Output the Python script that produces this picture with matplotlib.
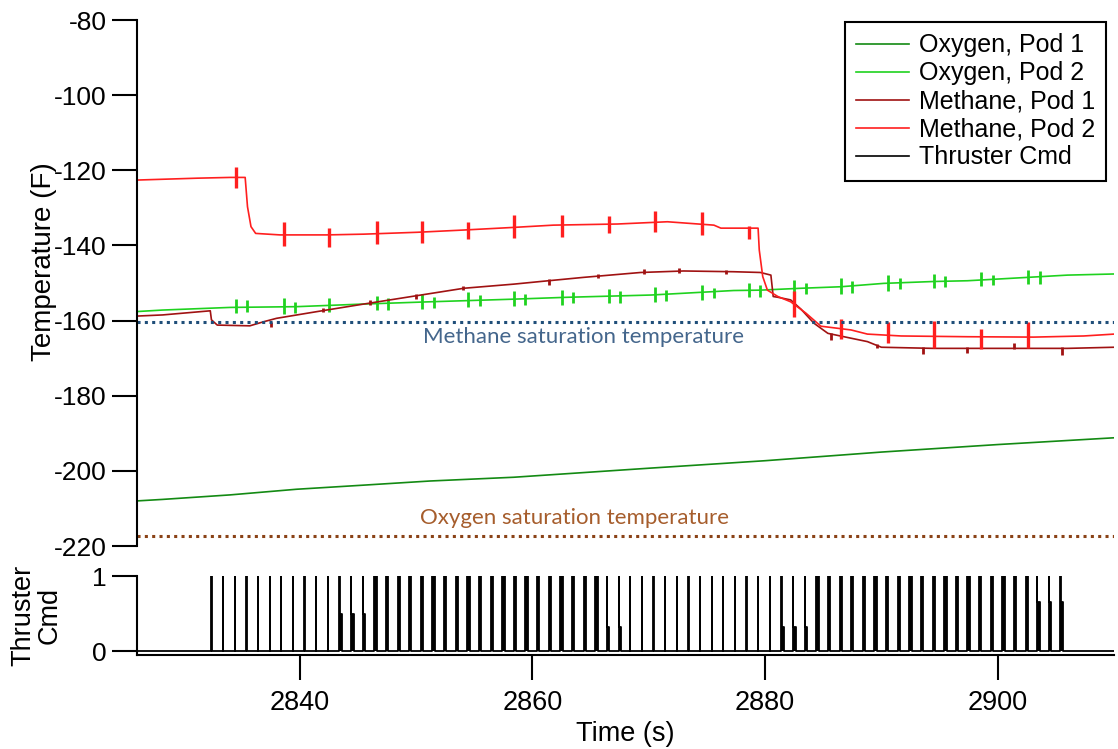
## Import libraries
import matplotlib
matplotlib.use('Agg')
import matplotlib.pyplot as plt
from matplotlib.lines import Line2D

# %%
## Data (time in s, temperature in F)
# Oxygen, Pod 1 (slow drift)
ox1_time = [2826.0, 2828.2, 2834.0, 2839.7, 2845.5, 2851.2, 2858.4, 2870.0, 2880.0, 2890.0, 2900.0, 2910.0]
ox1_temp = [-208.0, -207.6, -206.4, -204.9, -203.8, -202.7, -201.7, -199.3, -197.3, -195.0, -193.0, -191.2]

# Oxygen, Pod 2
ox2_time = [2826.0, 2828.2, 2834.0, 2839.7, 2845.5, 2851.2, 2858.4, 2863.0, 2870.2, 2877.3, 2879.6,
            2883.1, 2886.5, 2890.2, 2894.5, 2897.4, 2900.3, 2906.0, 2910.0]
ox2_temp = [-157.6, -157.2, -156.5, -156.3, -155.6, -155.0, -154.3, -153.8, -153.2, -152.0, -151.9,
            -151.4, -151.0, -150.1, -149.6, -149.4, -148.9, -147.9, -147.6]
ox2_spike_time = [2834.5, 2835.5, 2838.6, 2839.6, 2842.5, 2846.6, 2847.6, 2850.5, 2851.5, 2854.5,
                  2855.5, 2858.4, 2859.4, 2862.5, 2863.5, 2866.6, 2867.5, 2870.5, 2871.5, 2874.6,
                  2875.6, 2878.6, 2879.6, 2882.5, 2883.5, 2886.5, 2887.5, 2890.6, 2891.6, 2894.5,
                  2895.5, 2898.6, 2899.6, 2902.6, 2903.6]
ox2_spike_hi = [-154.3, -154.6, -154.0, -155.0, -153.9, -153.4, -154.0, -152.9, -153.6, -152.5,
                -153.2, -152.0, -152.9, -151.8, -152.5, -151.6, -152.2, -151.0, -151.8, -150.4,
                -151.2, -150.0, -150.4, -149.3, -150.0, -148.8, -149.6, -148.0, -148.6, -147.6,
                -148.2, -147.2, -147.8, -146.6, -146.8]
ox2_spike_lo = [-158.1, -157.8, -158.2, -157.9, -157.8, -157.3, -157.2, -156.9, -156.6, -156.5,
                -156.2, -156.2, -155.8, -155.8, -155.4, -155.4, -155.2, -155.0, -154.8, -154.4,
                -154.1, -153.8, -153.6, -153.4, -153.0, -152.8, -152.6, -152.0, -151.6, -151.3,
                -151.0, -150.9, -150.6, -150.3, -150.2]

# Methane, Pod 1
me1_time = [2826.0, 2828.2, 2832.3, 2832.4, 2832.9, 2835.7, 2836.9, 2838.0, 2841.5, 2845.5, 2849.8,
            2854.1, 2858.4, 2860.7, 2864.4, 2869.3, 2873.0, 2877.3, 2879.6, 2880.5, 2880.7, 2881.1,
            2882.2, 2883.1, 2884.2, 2885.4, 2887.4, 2888.8, 2890.0, 2894.5, 2900.3, 2906.0, 2910.0]
me1_temp = [-158.8, -158.5, -157.4, -159.8, -161.2, -161.4, -160.3, -159.4, -157.6, -155.6, -153.5,
            -151.4, -150.3, -149.6, -148.5, -147.2, -146.8, -147.0, -147.2, -147.9, -153.6, -153.8,
            -154.5, -157.0, -160.7, -163.4, -164.7, -165.6, -167.1, -167.4, -167.4, -167.4, -167.1]
me1_spike_time = [2837.5, 2842.0, 2846.0, 2850.0, 2854.0, 2861.4, 2865.6, 2869.6, 2872.6, 2876.6,
                  2885.7, 2889.6, 2893.6, 2897.4, 2901.4, 2905.5]
me1_spike_hi = [-160.3, -156.6, -154.6, -152.8, -150.8, -149.0, -147.6, -146.3, -146.1, -146.5,
                -163.2, -166.2, -167.0, -167.0, -166.0, -167.0]
me1_spike_lo = [-161.6, -157.8, -155.8, -154.2, -151.9, -150.6, -148.7, -147.6, -147.3, -147.5,
                -165.2, -167.3, -168.9, -168.6, -167.6, -169.2]

# Methane, Pod 2
me2_time = [2826.0, 2831.2, 2834.0, 2835.3, 2835.5, 2835.8, 2836.2, 2838.3, 2842.3, 2845.5, 2850.1,
            2854.1, 2858.4, 2861.8, 2867.3, 2871.6, 2875.6, 2876.2, 2879.4, 2879.5, 2879.8, 2880.2,
            2881.1, 2882.2, 2883.5, 2884.8, 2887.4, 2888.8, 2891.7, 2897.4, 2903.1, 2907.4, 2910.0]
me2_temp = [-122.6, -122.1, -121.9, -121.9, -129.7, -135.0, -136.8, -137.2, -137.2, -137.0, -136.5,
            -135.9, -135.2, -134.6, -134.3, -133.7, -134.6, -135.4, -135.4, -141.2, -148.3, -151.9,
            -153.6, -155.0, -158.0, -161.5, -162.5, -163.6, -164.1, -164.3, -164.4, -164.1, -163.6]
me2_spike_time = [2834.5, 2838.6, 2842.5, 2846.6, 2850.5, 2854.5, 2858.4, 2862.5, 2866.6, 2870.5,
                  2874.6, 2878.6, 2882.5, 2886.5, 2890.6, 2894.5, 2898.6, 2902.6]
me2_spike_hi = [-119.1, -133.7, -135.3, -133.6, -133.6, -133.8, -131.9, -131.9, -132.2, -130.8,
                -131.2, -134.7, -152.0, -159.6, -160.5, -160.2, -162.3, -160.4]
me2_spike_lo = [-124.8, -140.1, -140.3, -139.7, -139.4, -138.3, -138.1, -137.8, -136.7, -136.5,
                -137.3, -138.4, -159.0, -165.0, -166.0, -167.2, -167.6, -167.4]

# Saturation temperatures
methane_sat = -160.4
oxygen_sat = -217.3

# Thruster command pulses (start time, on-width, level of the tail after the spike)
thruster_times = [2832.4, 2833.4, 2834.4, 2835.4, 2836.4, 2837.4, 2838.4, 2839.4, 2840.4, 2841.4,
                  2842.4, 2843.4, 2844.4, 2845.4, 2846.4, 2847.4, 2848.4, 2849.4, 2850.4, 2851.4,
                  2852.4, 2853.4, 2854.4, 2855.4, 2856.4, 2857.4, 2858.4, 2859.4, 2860.4, 2861.4,
                  2862.4, 2863.4, 2864.4, 2865.4, 2866.4, 2867.4, 2868.4, 2869.4, 2870.4, 2871.4,
                  2872.4, 2873.4, 2874.4, 2875.4, 2876.4, 2877.4, 2878.4, 2879.4, 2880.4, 2881.4,
                  2882.4, 2883.4, 2884.4, 2885.4, 2886.4, 2887.4, 2888.4, 2889.4, 2890.4, 2891.4,
                  2892.4, 2893.4, 2894.4, 2895.4, 2896.4, 2897.4, 2898.4, 2899.4, 2900.4, 2901.4,
                  2902.4, 2903.4, 2904.4, 2905.4]
thruster_width = [0.02] * 11 + [0.02] * 3 + [0.2] * 20 + [0.02] * 2 + [0.02] * 13 + [0.02] * 3 + [0.2] * 19 + [0.02] * 3
thruster_tail = [0] * 11 + [0.5] * 3 + [1] * 20 + [0.32] * 2 + [0] * 13 + [0.32] * 3 + [1] * 19 + [0.65] * 3

x_limits = (2826, 2910)
x_ticks = [2840, 2860, 2880, 2900]
y_ticks = [-80, -100, -120, -140, -160, -180, -200, -220]

colours = {
    "ox1": "#138a13",
    "ox2": "#1fd21f",
    "me1": "#a01212",
    "me2": "#ff1f1f",
    "thr": "#000000",
    "me_sat": "#1f4e79",
    "me_txt": "#44668c",
    "ox_sat": "#8a4216",
    "ox_txt": "#a65d2c",
}

# %%
## Build the thruster step curve from the pulse list
thr_t = [x_limits[0]]
thr_v = [0]
for t0, w, tail in zip(thruster_times, thruster_width, thruster_tail):
    thr_t += [t0, t0, t0 + w]
    thr_v += [0, 1, 1]
    if 0 < tail < 1:
        thr_t += [t0 + w, t0 + w + 0.2]
        thr_v += [tail, tail]
    thr_t.append(thr_t[-1])
    thr_v.append(0)
thr_t.append(x_limits[1])
thr_v.append(0)

# %%
## Figure settings
plt.rcdefaults()
plt.close('all')
plt.rcParams['font.family'] = ['Liberation Sans', 'DejaVu Sans']
plt.rcParams['axes.unicode_minus'] = False

fig = plt.figure(figsize=(11.18, 7.49), dpi=100)
ax = fig.add_axes([137 / 1118, 203 / 749, 977 / 1118, 526 / 749])
ax_thr = fig.add_axes([137 / 1118, 94 / 749, 977 / 1118, 79 / 749], sharex=ax)

lw = 1.2
ax.plot(ox1_time, ox1_temp, color=colours["ox1"], lw=lw)
ax.plot(ox2_time, ox2_temp, color=colours["ox2"], lw=lw)
ax.vlines(ox2_spike_time, ox2_spike_lo, ox2_spike_hi, color=colours["ox2"], lw=2.0)
ax.plot(me1_time, me1_temp, color=colours["me1"], lw=lw)
ax.vlines(me1_spike_time, me1_spike_lo, me1_spike_hi, color=colours["me1"], lw=2.0)
ax.plot(me2_time, me2_temp, color=colours["me2"], lw=lw)
ax.vlines(me2_spike_time, me2_spike_lo, me2_spike_hi, color=colours["me2"], lw=2.4)

## Saturation lines
ax.axhline(methane_sat, color=colours["me_sat"], lw=2.2, linestyle=(0, (1, 1.4)), dash_capstyle='butt')
ax.axhline(oxygen_sat, color=colours["ox_sat"], lw=2.2, linestyle=(0, (1, 1.4)), dash_capstyle='butt')
ax.text(0.4565, -164.4, "Methane saturation temperature", transform=ax.get_yaxis_transform(),
        ha='center', va='center', fontsize=16, family=['Lato', 'DejaVu Sans'], color=colours["me_txt"])
ax.text(0.448, -212.6, "Oxygen saturation temperature", transform=ax.get_yaxis_transform(),
        ha='center', va='center', fontsize=16, family=['Lato', 'DejaVu Sans'], color=colours["ox_txt"])

## Thruster command
ax_thr.fill_between(thr_t, thr_v, 0, color=colours["thr"], lw=0)
ax_thr.plot(thr_t, thr_v, color=colours["thr"], lw=1.3)

# %%
## Axes cosmetics
ax.set_xlim(*x_limits)
ax.set_ylim(-220, -80)
ax.set_yticks(y_ticks)
for side in ["top", "right", "bottom"]:
    ax.spines[side].set_visible(False)
ax.spines["left"].set_linewidth(1.5)
ax.tick_params(axis='y', direction='out', length=18, width=1.5, labelsize=19, pad=4)
ax.tick_params(axis='x', bottom=False, labelbottom=False)
ax.set_ylabel("Temperature (F)", fontsize=20)
ax.yaxis.set_label_coords(-0.082, 0.54)

ax_thr.set_ylim(-0.053, 1.0)
ax_thr.set_yticks([0, 1])
for side in ["top", "right"]:
    ax_thr.spines[side].set_visible(False)
ax_thr.spines["left"].set_linewidth(1.5)
ax_thr.spines["bottom"].set_linewidth(1.5)
ax_thr.set_xticks(x_ticks)
ax_thr.tick_params(direction='out', length=18, width=1.5, labelsize=19, pad=4)
ax_thr.tick_params(axis='x', pad=7, labelsize=19.5)
ax_thr.set_ylabel("Thruster\nCmd", fontsize=19.5, linespacing=1.0)
ax_thr.yaxis.set_label_coords(-0.076, 0.5)
ax_thr.set_xlabel("Time (s)", fontsize=19.5)

## Legend (includes thruster line from lower panel)
handles = [
    Line2D([], [], color=colours["ox1"], lw=lw),
    Line2D([], [], color=colours["ox2"], lw=lw),
    Line2D([], [], color=colours["me1"], lw=lw),
    Line2D([], [], color=colours["me2"], lw=lw),
    Line2D([], [], color=colours["thr"], lw=lw),
]
labels = ["Oxygen, Pod 1", "Oxygen, Pod 2", "Methane, Pod 1", "Methane, Pod 2", "Thruster Cmd"]
legend = ax.legend(handles, labels, loc='upper right', bbox_to_anchor=(0.992, 0.996), borderaxespad=0,
                   fontsize=18, fancybox=False, framealpha=1, labelspacing=0.16, handlelength=2.1,
                   handletextpad=0.4, borderpad=0.45)
legend.get_frame().set_edgecolor('black')
legend.get_frame().set_linewidth(1.5)

# %%
## Save image
fig.savefig("out.png", dpi=100)
